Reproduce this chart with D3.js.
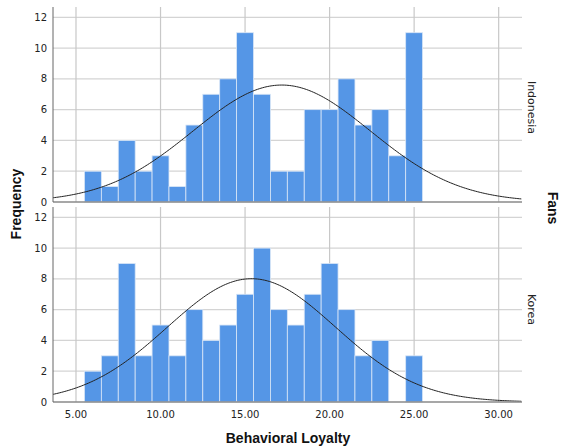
<!DOCTYPE html>
<html lang="en">
	<head>
		<meta charset="utf-8">
		<title>Behavioral Loyalty histogram by Fans</title>
		<script type="text/javascript" src="https://cdn.jsdelivr.net/npm/d3@7"></script>
		<style type="text/css">
			body { margin: 0; background: #fff; }
			text { font-family: "DejaVu Sans", sans-serif; fill: #222; }
			.title { font-family: "Liberation Sans", Arial, sans-serif; font-weight: bold; font-size: 14px; fill: #111; }
		</style>
	</head>
	<body>
		<script type="text/javascript">

			//Width and height
			var w = 562;
			var h = 448;

			//Bins: lower edges, width 1
			var binStarts = [5.5, 6.5, 7.5, 8.5, 9.5, 10.5, 11.5, 12.5, 13.5, 14.5,
			                 15.5, 16.5, 17.5, 18.5, 19.5, 20.5, 21.5, 22.5, 23.5, 24.5];
			var binWidth = 1;

			//Counts per bin
			var indonesia = [2, 1, 4, 2, 3, 1, 5, 7, 8, 11, 7, 2, 2, 6, 6, 8, 5, 6, 3, 11];
			var korea     = [2, 3, 9, 3, 5, 3, 6, 4, 5, 7, 10, 6, 5, 7, 9, 6, 3, 4, 0, 3];

			//Normal curve parameters
			var indonesiaFit = { mean: 17.17, sd: 5.25, n: 100 };
			var koreaFit     = { mean: 15.38, sd: 4.98, n: 100 };

			var panelNames = ["Indonesia", "Korea"];
			var xTicks = [5, 10, 15, 20, 25, 30];
			var yTicks = [0, 2, 4, 6, 8, 10, 12];

			var panels = [
				{ name: panelNames[0], counts: indonesia, fit: indonesiaFit, top: 7, bottom: 202 },
				{ name: panelNames[1], counts: korea, fit: koreaFit, top: 207, bottom: 402 }
			];

			var left = 53, right = 522;

			var x = d3.scaleLinear().domain([3.64, 31.38]).range([left, right]);

			var svg = d3.select("body")
						.append("svg")
						.attr("width", w)
						.attr("height", h);

			panels.forEach(function(p) {
				var y = d3.scaleLinear().domain([0, 12.67]).range([p.bottom, p.top]);
				var g = svg.append("g");

				//horizontal grid
				g.selectAll("line.hgrid")
					.data(yTicks.slice(1))
					.enter()
					.append("line")
					.attr("x1", left).attr("x2", right)
					.attr("y1", function(d) { return y(d); })
					.attr("y2", function(d) { return y(d); })
					.style("stroke", "#d4d4d4")
					.style("stroke-width", 1.2);

				//vertical grid
				g.selectAll("line.vgrid")
					.data(xTicks)
					.enter()
					.append("line")
					.attr("x1", function(d) { return x(d); })
					.attr("x2", function(d) { return x(d); })
					.attr("y1", p.top).attr("y2", p.bottom)
					.style("stroke", "#c8c8c8")
					.style("stroke-width", 1.2);

				//bars
				var bins = binStarts.map(function(s, i) { return { x0: s, count: p.counts[i] }; })
					.filter(function(d) { return d.count > 0; });

				g.selectAll("rect")
					.data(bins)
					.enter()
					.append("rect")
					.attr("x", function(d) { return x(d.x0); })
					.attr("width", function(d) { return x(d.x0 + binWidth) - x(d.x0); })
					.attr("y", function(d) { return y(d.count); })
					.attr("height", function(d) { return y(0) - y(d.count); })
					.style("fill", "#5596e6")
					.style("stroke", "#d9e6f7")
					.style("stroke-width", 0.8);

				//normal curve
				var pts = d3.range(x.domain()[0], x.domain()[1] + 0.01, 0.1);
				var line = d3.line()
					.x(function(v) { return x(v); })
					.y(function(v) {
						var z = (v - p.fit.mean) / p.fit.sd;
						return y(p.fit.n * binWidth / (p.fit.sd * Math.sqrt(2 * Math.PI)) * Math.exp(-0.5 * z * z));
					});
				g.append("path")
					.datum(pts)
					.attr("d", line)
					.style("fill", "none")
					.style("stroke", "#222")
					.style("stroke-width", 1);

				//axis lines
				g.append("line")
					.attr("x1", left).attr("x2", right)
					.attr("y1", p.bottom).attr("y2", p.bottom)
					.style("stroke", "#8a8a8a")
					.style("stroke-width", 1.6);
				g.append("line")
					.attr("x1", left).attr("x2", left)
					.attr("y1", p.top).attr("y2", p.bottom)
					.style("stroke", "#666")
					.style("stroke-width", 1);

				//y tick labels
				g.selectAll("text.ytick")
					.data(yTicks)
					.enter()
					.append("text")
					.attr("x", 47)
					.attr("y", function(d) { return y(d); })
					.attr("dy", "0.35em")
					.attr("text-anchor", "end")
					.style("font-size", "10px")
					.text(function(d) { return d; });

				//panel label
				var cy = (p.top + p.bottom) / 2 + (p.name === "Korea" ? 5 : 3);
				g.append("text")
					.attr("transform", "translate(528," + cy + ") rotate(90)")
					.attr("text-anchor", "middle")
					.style("font-size", "11px")
					.text(p.name);
			});

			//x tick labels
			svg.selectAll("text.xtick")
				.data(xTicks)
				.enter()
				.append("text")
				.attr("x", function(d) { return x(d); })
				.attr("y", 418)
				.attr("text-anchor", "middle")
				.style("font-size", "10px")
				.text(function(d) { return d.toFixed(2); });

			//axis titles
			svg.append("text")
				.attr("class", "title")
				.attr("x", 288)
				.attr("y", 443)
				.attr("text-anchor", "middle")
				.text("Behavioral Loyalty");

			svg.append("text")
				.attr("class", "title")
				.attr("transform", "translate(21,204) rotate(-90)")
				.attr("text-anchor", "middle")
				.text("Frequency");

			svg.append("text")
				.attr("class", "title")
				.attr("transform", "translate(548,208) rotate(90)")
				.attr("text-anchor", "middle")
				.text("Fans");

		</script>
	</body>
</html>
